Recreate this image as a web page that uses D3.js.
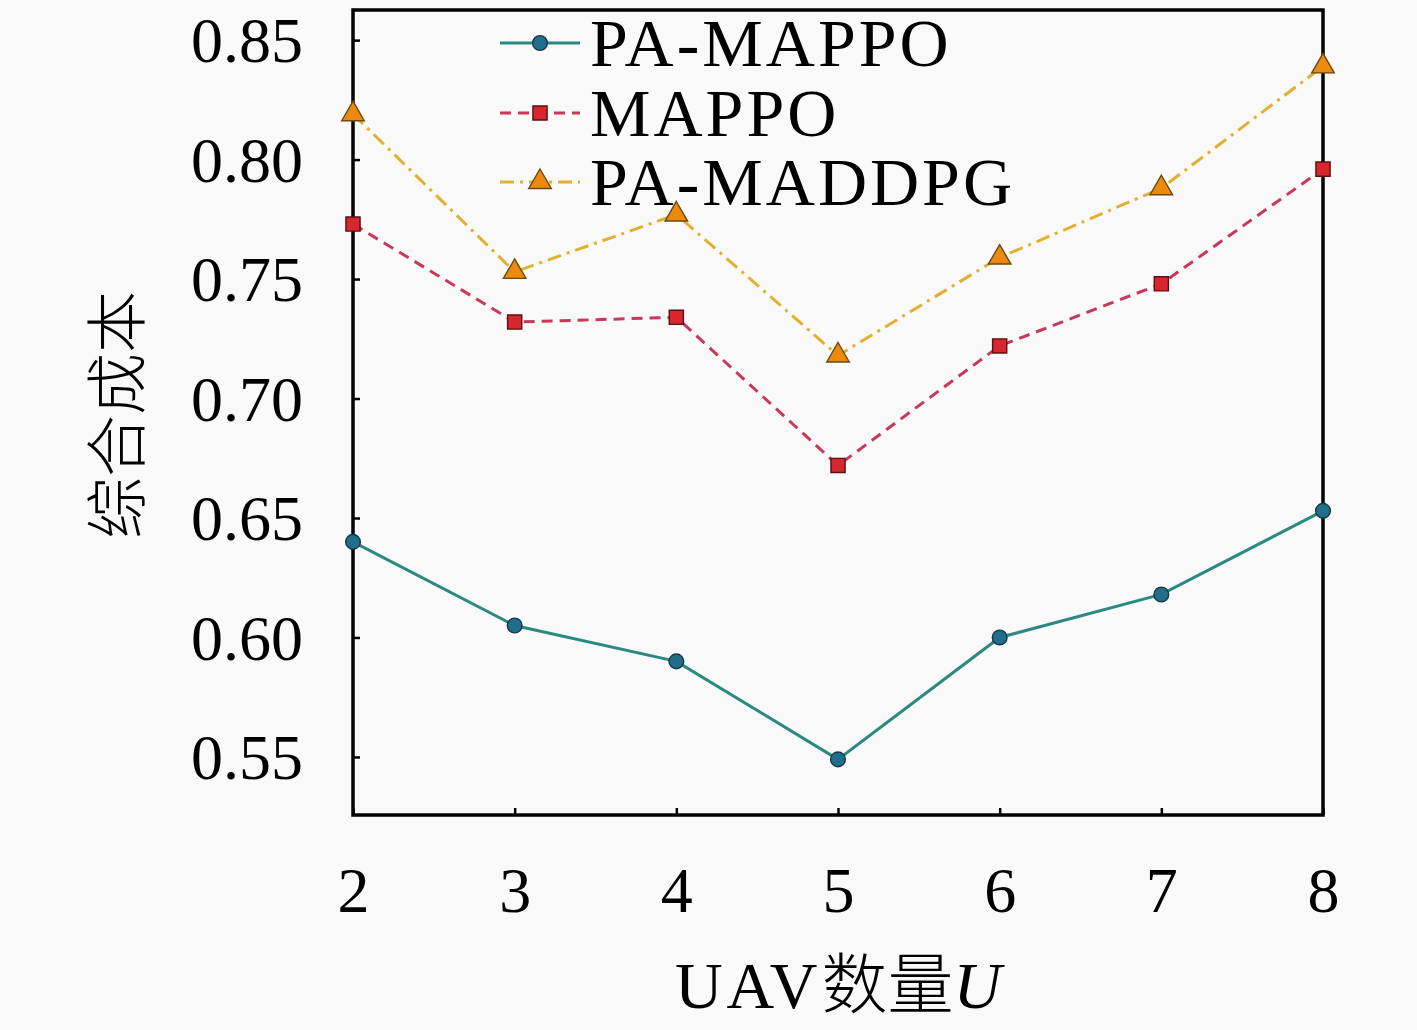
<!DOCTYPE html>
<html><head><meta charset="utf-8">
<script src="https://cdn.jsdelivr.net/npm/d3@7/dist/d3.min.js"></script>
<style>
html,body{margin:0;padding:0;background:#f9f9f9;}
svg{display:block;}
</style></head>
<body>
<script>
const uavCounts = [2, 3, 4, 5, 6, 7, 8];
const paMappo = [0.640, 0.605, 0.590, 0.549, 0.600, 0.618, 0.653];
const mappo = [0.773, 0.732, 0.734, 0.672, 0.722, 0.748, 0.796];
const paMaddpg = [0.819, 0.753, 0.777, 0.718, 0.759, 0.788, 0.839];
const yTicks = [0.55, 0.60, 0.65, 0.70, 0.75, 0.80, 0.85];
const seriesNames = ["PA-MAPPO", "MAPPO", "PA-MADDPG"];

const W = 1417, H = 1030;
const m = {left: 353, top: 10, right: 94, bottom: 215};
const iw = W - m.left - m.right, ih = H - m.top - m.bottom;

const svg = d3.select("body").append("svg").attr("width", W).attr("height", H)
  .style("background", "#f9f9f9");
const g = svg.append("g").attr("transform", `translate(${m.left},${m.top})`);

const x = d3.scaleLinear().domain([2, 8]).range([0, iw]);
const y = d3.scaleLinear().domain([0.5257, 0.8626]).range([ih, 0]);

const serif = "Liberation Serif";

const yAxis = d3.axisLeft(y).tickValues(yTicks).tickSize(-7).tickPadding(50).tickFormat(d3.format(".2f"));
const xAxis = d3.axisBottom(x).tickValues(uavCounts).tickSize(-7).tickPadding(52).tickFormat(d3.format("d"));

const gy = g.append("g").call(yAxis);
const gx = g.append("g").attr("transform", `translate(0,${ih})`).call(xAxis);
[gy, gx].forEach(a => {
  a.select(".domain").remove();
  a.selectAll(".tick line").attr("stroke", "#000").attr("stroke-width", 2.5);
  a.selectAll(".tick text").attr("fill", "#000").attr("font-family", serif).attr("font-size", 64);
});
gy.selectAll(".tick text").attr("dy", "0.34em");
gx.selectAll(".tick text").attr("dy", "0.71em");

g.append("rect").attr("x", 0).attr("y", 0).attr("width", iw).attr("height", ih)
  .attr("fill", "none").attr("stroke", "#000").attr("stroke-width", 3.5);

const styles = [
  {data: paMappo, line: "#2b8a80", fill: "#1f6e8c", stroke: "#173844", dash: null, shape: "circle"},
  {data: mappo, line: "#c8385a", fill: "#d8262e", stroke: "#5a1010", dash: "11,7", shape: "square"},
  {data: paMaddpg, line: "#e2b030", fill: "#ec8a10", stroke: "#6a4a10", dash: "14,6,3,6", shape: "triangle"}
];
const symFor = s => s === "circle" ? d3.symbolCircle : s === "square" ? d3.symbolSquare : d3.symbolTriangle;
const sizeFor = s => s === "circle" ? 170 : s === "square" ? 200 : 220;

const lineGen = d3.line().x((d, i) => x(uavCounts[i])).y(d => y(d));

styles.forEach(s => {
  g.append("path").datum(s.data).attr("d", lineGen).attr("fill", "none")
    .attr("stroke", s.line).attr("stroke-width", 3)
    .attr("stroke-dasharray", s.dash);
});
styles.forEach(s => {
  g.selectAll(null).data(s.data).enter().append("path")
    .attr("transform", (d, i) => `translate(${x(uavCounts[i])},${y(d)})`)
    .attr("d", d3.symbol().type(symFor(s.shape)).size(sizeFor(s.shape)))
    .attr("fill", s.fill).attr("stroke", s.stroke).attr("stroke-width", 1.4);
});

const leg = svg.append("g");
const legRows = [43, 113, 182];
styles.forEach((s, i) => {
  const ly = legRows[i];
  leg.append("line").attr("x1", 500).attr("x2", 580).attr("y1", ly).attr("y2", ly)
    .attr("stroke", s.line).attr("stroke-width", 3).attr("stroke-dasharray", s.dash);
  leg.append("path").attr("transform", `translate(540,${ly})`)
    .attr("d", d3.symbol().type(symFor(s.shape)).size(sizeFor(s.shape)))
    .attr("fill", s.fill).attr("stroke", s.stroke).attr("stroke-width", 1.4);
  leg.append("text").attr("x", 590).attr("y", ly + 23).text(seriesNames[i])
    .attr("font-family", serif).attr("font-size", 68).attr("letter-spacing", 3).attr("fill", "#000");
});

const xt = svg.append("text").attr("x", m.left + iw / 2).attr("y", 1008).attr("text-anchor", "middle")
  .attr("font-size", 66).attr("fill", "#000");
xt.append("tspan").text("UAV").attr("font-family", serif).attr("letter-spacing", 4);
xt.append("tspan").text("数量").attr("font-family", "Noto Sans CJK SC").attr("font-weight", 300);
xt.append("tspan").text("U").attr("font-family", serif).attr("font-style", "italic");

svg.append("text").attr("transform", `translate(140,415) rotate(-90)`).attr("text-anchor", "middle")
  .attr("font-family", "Noto Sans CJK SC").attr("font-weight", 300).attr("font-size", 62)
  .attr("fill", "#000").text("综合成本");
</script>
</body></html>
